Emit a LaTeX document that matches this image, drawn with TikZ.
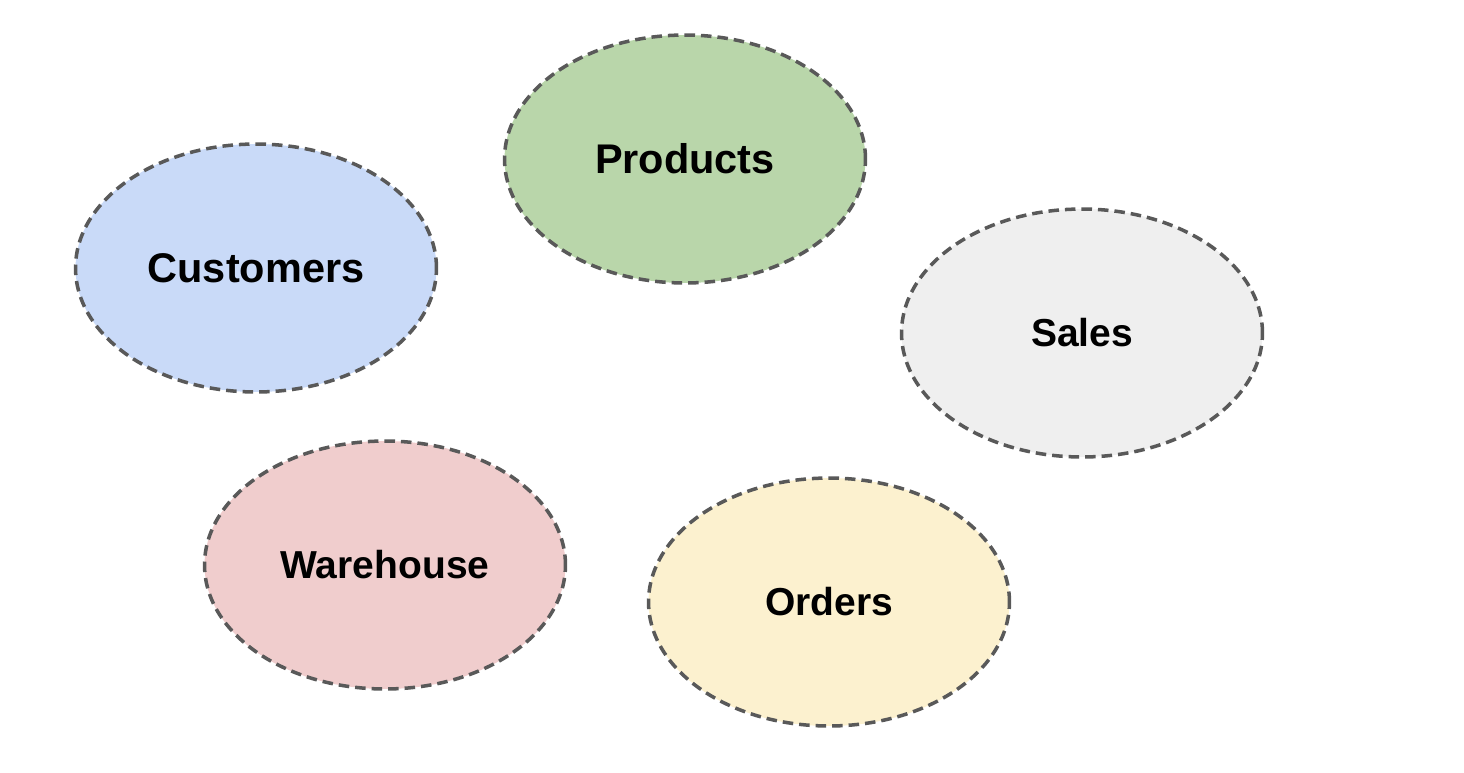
\documentclass[tikz,border=0pt]{standalone}
\usepackage{fontspec}
\setmainfont{Liberation Sans}
\usetikzlibrary{shapes.geometric}

\definecolor{custblue}{HTML}{C9DAF8}
\definecolor{prodgreen}{HTML}{B9D6AA}
\definecolor{salesgrey}{HTML}{EFEFEF}
\definecolor{warered}{HTML}{F0CDCD}
\definecolor{orderyellow}{HTML}{FCF1CF}
\definecolor{edgegrey}{HTML}{595959}

\begin{document}
\begin{tikzpicture}[
    x=0.02cm,
    y=-0.02cm,
    font=\fontsize{22.2}{27}\selectfont\bfseries,
    bigtext/.style={font=\fontsize{23.6}{28}\selectfont\bfseries},
    blob/.style={
      ellipse,
      draw=edgegrey,
      line width=2pt,
      dash pattern=on 6pt off 3.4pt,
      align=center,
      minimum width=7.22cm,
      minimum height=4.96cm,
      inner sep=0pt
    }
]

% 0. CANVAS
\useasboundingbox[fill=white] (0,0) rectangle (1464,772);

% 1. NODES
\node[blob, bigtext, fill=custblue] (customers) at (256,268) {Customers};
\node[blob, bigtext, fill=prodgreen] (products) at (685,159) {Products};
\node[blob, fill=salesgrey] (sales) at (1082,333) {Sales};
\node[blob, fill=warered] (warehouse) at (385,565) {Warehouse};
\node[blob, fill=orderyellow] (orders) at (829,602) {Orders};

\end{tikzpicture}
\end{document}
